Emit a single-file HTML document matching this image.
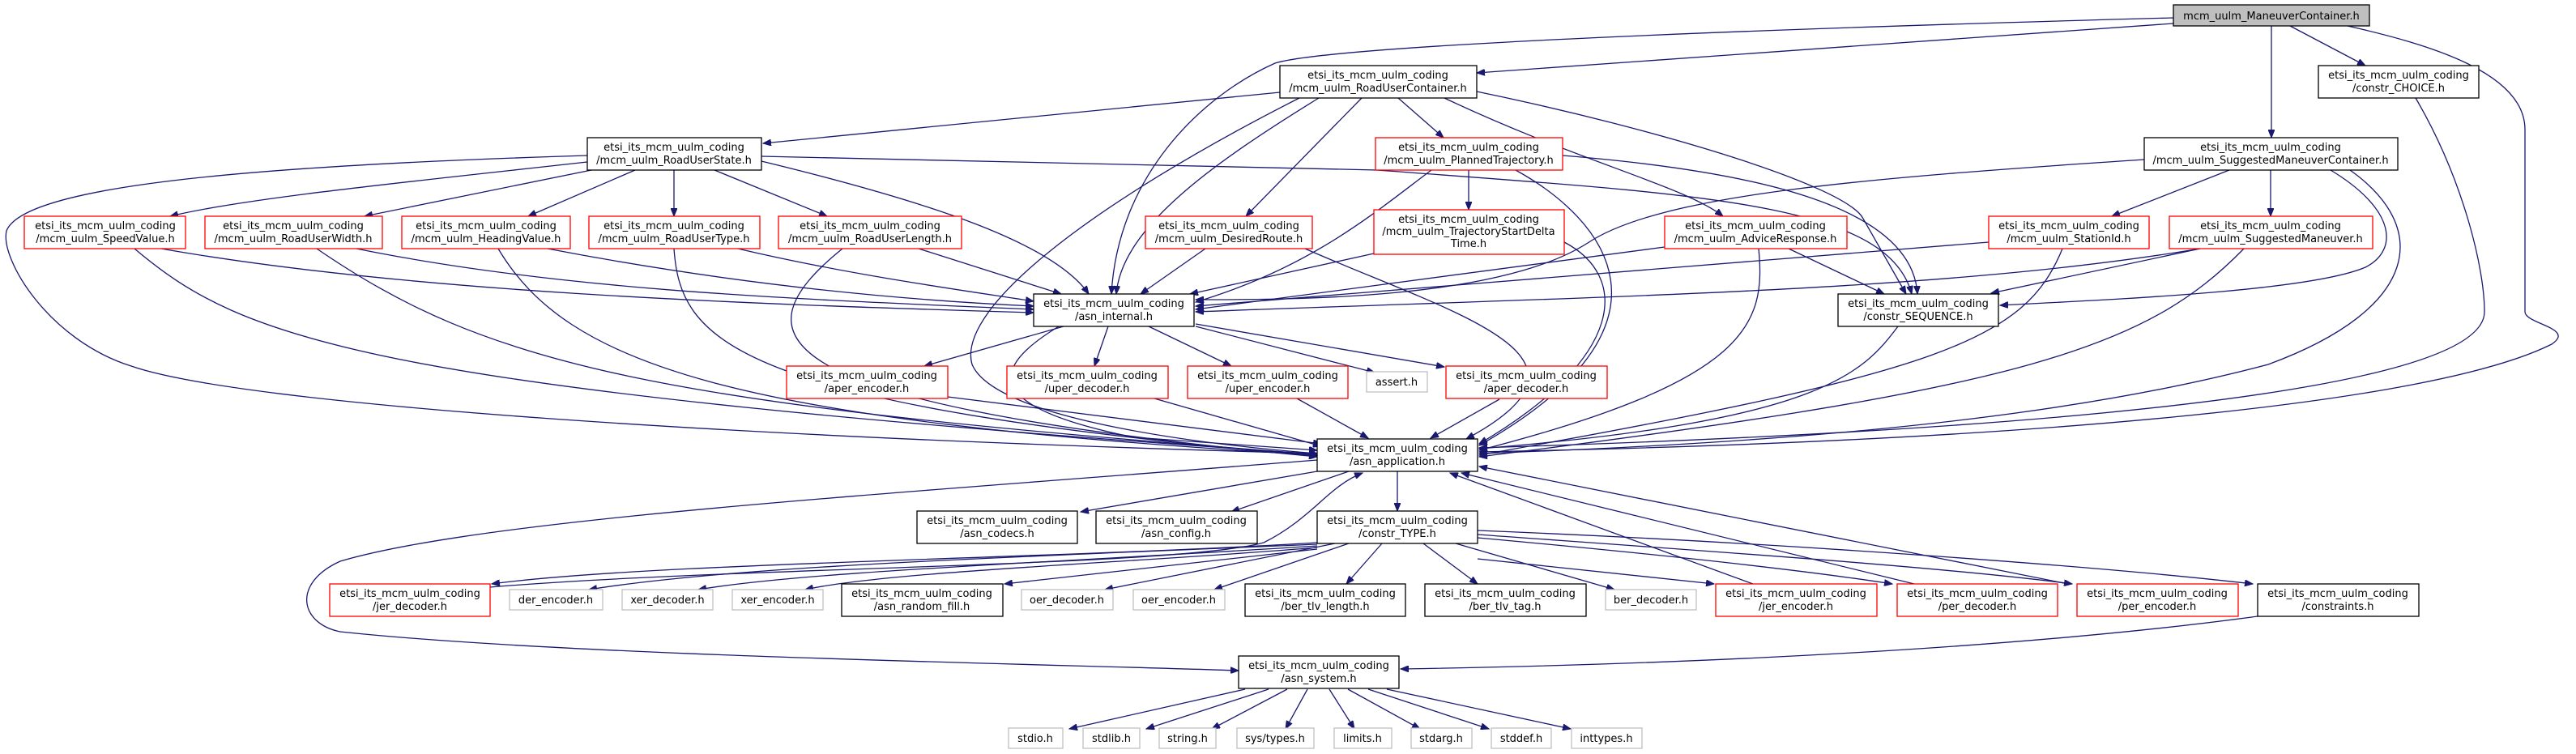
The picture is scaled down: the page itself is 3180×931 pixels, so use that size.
<!DOCTYPE html>
<html><head><meta charset="utf-8"><style>
html,body{margin:0;padding:0;background:#fff;}
svg{display:block;}
text{font-family:"DejaVu Sans","Liberation Sans",sans-serif;font-size:13px;fill:#000;text-anchor:middle;}
.e{fill:none;stroke:#191970;stroke-width:1.3;marker-end:url(#a);}
.n{fill:#fff;stroke:#000;stroke-width:1.3;}
.r{fill:#fff;stroke:#ff0000;stroke-width:1.3;}
.g{fill:#fff;stroke:#bfbfbf;stroke-width:1.3;}
</style></head><body>
<svg width="3180" height="931" viewBox="0 0 3180 931" xmlns="http://www.w3.org/2000/svg">
<defs><marker id="a" markerUnits="userSpaceOnUse" markerWidth="11" markerHeight="8" refX="10" refY="4" orient="auto"><path d="M0,0 L10,4 L0,8 z" fill="#191970" stroke="#191970"/></marker></defs>

<!-- edges -->
<path class="e" d="M2683,29 L1823,90"/>
<path class="e" d="M2683,22 C2200,35 1650,55 1574,78 C1480,120 1380,220 1372,363"/>
<path class="e" d="M2804,32 L2804,170"/>
<path class="e" d="M2827,32 L2920,81"/>
<path class="e" d="M2898,32 C3000,55 3117,90 3117,160 L3117,385 C3117,400 3180,405 3150,425 C3000,500 2500,545 1826,558"/>
<path class="e" d="M2982,121 C3040,220 3067,330 3067,385 C3067,440 2900,520 1826,553"/>

<path class="e" d="M1580,114 L942,177"/>
<path class="e" d="M1628,121 C1500,200 1385,280 1378,363"/>
<path class="e" d="M1604,121 C1350,250 1180,380 1200,450 C1230,520 1500,550 1626,560"/>
<path class="e" d="M1726,121 L1782,170"/>
<path class="e" d="M1681,121 L1538,267"/>
<path class="e" d="M1783,121 C1950,200 2080,230 2127,267"/>
<path class="e" d="M1823,113 C2050,160 2280,230 2300,270 L2353,363"/>

<path class="e" d="M725,200 C500,225 300,245 210,267"/>
<path class="e" d="M730,210 L450,267"/>
<path class="e" d="M784,210 L652,267"/>
<path class="e" d="M832,210 L832,267"/>
<path class="e" d="M882,210 L1021,267"/>
<path class="e" d="M725,192 C300,205 30,230 8,285 C0,320 60,420 162,452 C300,500 900,540 1626,560"/>
<path class="e" d="M940,199 C1150,250 1300,300 1344,363"/>
<path class="e" d="M940,193 L1700,210 C2100,240 2330,250 2360,363"/>

<path class="e" d="M199,307 C500,360 900,375 1276,386"/>
<path class="e" d="M166,307 C300,420 450,480 1626,561"/>
<path class="e" d="M440,307 C700,360 1000,370 1276,382"/>
<path class="e" d="M391,307 C600,450 800,500 1626,561"/>
<path class="e" d="M676,307 C900,350 1100,370 1276,378"/>
<path class="e" d="M615,307 C700,450 900,520 1626,562"/>
<path class="e" d="M911,307 C1050,340 1200,360 1276,372"/>
<path class="e" d="M832,307 C840,420 900,500 1626,563"/>
<path class="e" d="M1134,307 L1310,363"/>
<path class="e" d="M1040,307 C900,420 950,500 1626,564"/>

<path class="e" d="M1813,210 L1813,259"/>
<path class="e" d="M1767,210 C1700,260 1620,330 1476,373"/>
<path class="e" d="M1871,210 C1980,270 2090,400 1826,550"/>
<path class="e" d="M1929,192 C2150,210 2360,250 2367,363"/>
<path class="e" d="M1696,313 L1469,363"/>
<path class="e" d="M1931,299 C2010,340 2010,440 1826,548"/>
<path class="e" d="M1488,307 L1408,363"/>
<path class="e" d="M1611,307 C1800,390 2000,440 1810,542"/>
<path class="e" d="M2055,305 L1476,382"/>
<path class="e" d="M2171,307 C2180,400 2160,470 1826,556"/>
<path class="e" d="M2208,307 L2326,363"/>

<path class="e" d="M2752,210 L2607,267"/>
<path class="e" d="M2803,210 L2803,267"/>
<path class="e" d="M2647,197 C2300,220 2050,240 1960,300 C1850,370 1600,370 1476,370"/>
<path class="e" d="M2877,210 C2960,260 2960,310 2920,330 C2850,360 2600,370 2469,377"/>
<path class="e" d="M2901,210 C3000,280 2990,380 2800,450 C2500,530 2100,550 1826,560"/>
<path class="e" d="M2455,299 L1476,378"/>
<path class="e" d="M2546,307 C2500,420 2400,460 1826,562"/>
<path class="e" d="M2716,307 C2400,360 2000,365 1476,385"/>
<path class="e" d="M2716,307 L2458,362"/>
<path class="e" d="M2770,307 C2650,430 2500,480 1826,564"/>
<path class="e" d="M2343,403 C2300,460 2250,520 1826,554"/>

<path class="e" d="M1313,403 L1141,452"/>
<path class="e" d="M1307,403 C1230,450 1200,500 1400,540 L1626,556"/>
<path class="e" d="M1368,403 L1351,452"/>
<path class="e" d="M1418,403 L1520,452"/>
<path class="e" d="M1476,403 L1697,460"/>
<path class="e" d="M1476,400 L1783,453"/>
<path class="e" d="M1170,490 L1631,548"/>
<path class="e" d="M1425,492 L1631,551"/>
<path class="e" d="M1601,492 L1689,541"/>
<path class="e" d="M1851,493 L1766,541"/>

<path class="e" d="M1626,582 L1334,632"/>
<path class="e" d="M1665,582 L1520,632"/>
<path class="e" d="M1725,582 L1725,631"/>
<path class="e" d="M1626,568 C1100,610 600,640 420,693 C360,720 370,770 420,780 C700,810 1300,820 1529,828"/>
<path class="e" d="M2787,761 C2500,800 2100,820 1729,826"/>

<path class="e" d="M1626,670 C1300,690 800,695 607,721"/>
<path class="e" d="M605,725 C900,700 1450,700 1560,670 C1620,640 1640,600 1682,584"/>
<path class="e" d="M1626,672 C1200,690 900,700 727,728"/>
<path class="e" d="M1626,674 C1300,695 1000,705 862,728"/>
<path class="e" d="M1626,676 C1400,695 1100,705 994,728"/>
<path class="e" d="M1626,678 L1240,721"/>
<path class="e" d="M1648,671 L1364,728"/>
<path class="e" d="M1665,671 L1499,728"/>
<path class="e" d="M1706,671 L1662,721"/>
<path class="e" d="M1757,671 L1824,721"/>
<path class="e" d="M1797,671 L1993,728"/>
<path class="e" d="M1824,690 L2116,721"/>
<path class="e" d="M1824,664 C2000,680 2200,700 2336,721"/>
<path class="e" d="M1824,660 C2100,680 2400,700 2558,721"/>
<path class="e" d="M1824,655 C2200,670 2600,700 2781,721"/>
<path class="e" d="M2164,721 L1790,584"/>
<path class="e" d="M2363,721 L1804,584"/>
<path class="e" d="M2553,721 L1826,576"/>

<path class="e" d="M1537,851 L1320,900"/>
<path class="e" d="M1566,851 L1415,900"/>
<path class="e" d="M1589,851 L1496,900"/>
<path class="e" d="M1614,851 L1587,900"/>
<path class="e" d="M1641,851 L1672,900"/>
<path class="e" d="M1664,851 L1753,900"/>
<path class="e" d="M1689,851 L1838,900"/>
<path class="e" d="M1712,851 L1939,900"/>

<!-- nodes -->
<rect x="2683" y="6" width="242" height="26" fill="#bfbfbf" stroke="#000" stroke-width="1.3"/><text x="2804" y="24">mcm_uulm_ManeuverContainer.h</text>

<rect class="n" x="1580" y="81" width="243" height="40"/><text x="1701" y="97">etsi_its_mcm_uulm_coding</text><text x="1701" y="113">/mcm_uulm_RoadUserContainer.h</text>
<rect class="n" x="2862" y="81" width="198" height="40"/><text x="2961" y="97">etsi_its_mcm_uulm_coding</text><text x="2961" y="113">/constr_CHOICE.h</text>

<rect class="n" x="725" y="170" width="215" height="40"/><text x="832" y="186">etsi_its_mcm_uulm_coding</text><text x="832" y="202">/mcm_uulm_RoadUserState.h</text>
<rect class="r" x="1698" y="170" width="231" height="40"/><text x="1813" y="186">etsi_its_mcm_uulm_coding</text><text x="1813" y="202">/mcm_uulm_PlannedTrajectory.h</text>
<rect class="n" x="2647" y="170" width="313" height="40"/><text x="2803" y="186">etsi_its_mcm_uulm_coding</text><text x="2803" y="202">/mcm_uulm_SuggestedManeuverContainer.h</text>

<rect class="r" x="30" y="267" width="199" height="40"/><text x="130" y="283">etsi_its_mcm_uulm_coding</text><text x="130" y="299">/mcm_uulm_SpeedValue.h</text>
<rect class="r" x="253" y="267" width="219" height="40"/><text x="362" y="283">etsi_its_mcm_uulm_coding</text><text x="362" y="299">/mcm_uulm_RoadUserWidth.h</text>
<rect class="r" x="496" y="267" width="208" height="40"/><text x="600" y="283">etsi_its_mcm_uulm_coding</text><text x="600" y="299">/mcm_uulm_HeadingValue.h</text>
<rect class="r" x="727" y="267" width="211" height="40"/><text x="832" y="283">etsi_its_mcm_uulm_coding</text><text x="832" y="299">/mcm_uulm_RoadUserType.h</text>
<rect class="r" x="961" y="267" width="226" height="40"/><text x="1074" y="283">etsi_its_mcm_uulm_coding</text><text x="1074" y="299">/mcm_uulm_RoadUserLength.h</text>
<rect class="r" x="1414" y="267" width="206" height="40"/><text x="1517" y="283">etsi_its_mcm_uulm_coding</text><text x="1517" y="299">/mcm_uulm_DesiredRoute.h</text>
<rect class="r" x="1696" y="259" width="235" height="55"/><text x="1813" y="275">etsi_its_mcm_uulm_coding</text><text x="1813" y="290">/mcm_uulm_TrajectoryStartDelta</text><text x="1813" y="305">Time.h</text>
<rect class="r" x="2055" y="267" width="225" height="40"/><text x="2167" y="283">etsi_its_mcm_uulm_coding</text><text x="2167" y="299">/mcm_uulm_AdviceResponse.h</text>
<rect class="r" x="2455" y="267" width="198" height="40"/><text x="2554" y="283">etsi_its_mcm_uulm_coding</text><text x="2554" y="299">/mcm_uulm_StationId.h</text>
<rect class="r" x="2678" y="267" width="251" height="40"/><text x="2803" y="283">etsi_its_mcm_uulm_coding</text><text x="2803" y="299">/mcm_uulm_SuggestedManeuver.h</text>

<rect class="n" x="1276" y="363" width="198" height="40"/><text x="1375" y="379">etsi_its_mcm_uulm_coding</text><text x="1375" y="395">/asn_internal.h</text>
<rect class="n" x="2269" y="363" width="198" height="40"/><text x="2368" y="379">etsi_its_mcm_uulm_coding</text><text x="2368" y="395">/constr_SEQUENCE.h</text>

<rect class="r" x="971" y="452" width="199" height="40"/><text x="1070" y="468">etsi_its_mcm_uulm_coding</text><text x="1070" y="484">/aper_encoder.h</text>
<rect class="r" x="1243" y="452" width="199" height="40"/><text x="1342" y="468">etsi_its_mcm_uulm_coding</text><text x="1342" y="484">/uper_decoder.h</text>
<rect class="r" x="1466" y="452" width="198" height="40"/><text x="1565" y="468">etsi_its_mcm_uulm_coding</text><text x="1565" y="484">/uper_encoder.h</text>
<rect class="g" x="1687" y="459" width="75" height="25"/><text x="1724" y="476">assert.h</text>
<rect class="r" x="1785" y="452" width="199" height="40"/><text x="1884" y="468">etsi_its_mcm_uulm_coding</text><text x="1884" y="484">/aper_decoder.h</text>

<rect class="n" x="1626" y="542" width="198" height="40"/><text x="1725" y="558">etsi_its_mcm_uulm_coding</text><text x="1725" y="574">/asn_application.h</text>

<rect class="n" x="1132" y="631" width="198" height="40"/><text x="1231" y="647">etsi_its_mcm_uulm_coding</text><text x="1231" y="663">/asn_codecs.h</text>
<rect class="n" x="1353" y="631" width="199" height="40"/><text x="1452" y="647">etsi_its_mcm_uulm_coding</text><text x="1452" y="663">/asn_config.h</text>
<rect class="n" x="1626" y="631" width="198" height="40"/><text x="1725" y="647">etsi_its_mcm_uulm_coding</text><text x="1725" y="663">/constr_TYPE.h</text>

<rect class="r" x="407" y="721" width="198" height="40"/><text x="506" y="737">etsi_its_mcm_uulm_coding</text><text x="506" y="753">/jer_decoder.h</text>
<rect class="g" x="629" y="728" width="115" height="25"/><text x="686" y="745">der_encoder.h</text>
<rect class="g" x="768" y="728" width="112" height="25"/><text x="824" y="745">xer_decoder.h</text>
<rect class="g" x="904" y="728" width="112" height="25"/><text x="960" y="745">xer_encoder.h</text>
<rect class="n" x="1039" y="721" width="199" height="40"/><text x="1138" y="737">etsi_its_mcm_uulm_coding</text><text x="1138" y="753">/asn_random_fill.h</text>
<rect class="g" x="1261" y="728" width="113" height="25"/><text x="1317" y="745">oer_decoder.h</text>
<rect class="g" x="1399" y="728" width="113" height="25"/><text x="1455" y="745">oer_encoder.h</text>
<rect class="n" x="1537" y="721" width="198" height="40"/><text x="1636" y="737">etsi_its_mcm_uulm_coding</text><text x="1636" y="753">/ber_tlv_length.h</text>
<rect class="n" x="1759" y="721" width="199" height="40"/><text x="1858" y="737">etsi_its_mcm_uulm_coding</text><text x="1858" y="753">/ber_tlv_tag.h</text>
<rect class="g" x="1982" y="728" width="112" height="25"/><text x="2038" y="745">ber_decoder.h</text>
<rect class="r" x="2118" y="721" width="199" height="40"/><text x="2217" y="737">etsi_its_mcm_uulm_coding</text><text x="2217" y="753">/jer_encoder.h</text>
<rect class="r" x="2342" y="721" width="198" height="40"/><text x="2441" y="737">etsi_its_mcm_uulm_coding</text><text x="2441" y="753">/per_decoder.h</text>
<rect class="r" x="2564" y="721" width="199" height="40"/><text x="2663" y="737">etsi_its_mcm_uulm_coding</text><text x="2663" y="753">/per_encoder.h</text>
<rect class="n" x="2787" y="721" width="199" height="40"/><text x="2886" y="737">etsi_its_mcm_uulm_coding</text><text x="2886" y="753">/constraints.h</text>

<rect class="n" x="1529" y="810" width="198" height="40"/><text x="1628" y="826">etsi_its_mcm_uulm_coding</text><text x="1628" y="842">/asn_system.h</text>

<rect class="g" x="1245" y="899" width="67" height="25"/><text x="1278" y="916">stdio.h</text>
<rect class="g" x="1337" y="899" width="70" height="25"/><text x="1372" y="916">stdlib.h</text>
<rect class="g" x="1431" y="899" width="70" height="25"/><text x="1466" y="916">string.h</text>
<rect class="g" x="1527" y="899" width="95" height="25"/><text x="1574" y="916">sys/types.h</text>
<rect class="g" x="1647" y="899" width="71" height="25"/><text x="1682" y="916">limits.h</text>
<rect class="g" x="1742" y="899" width="75" height="25"/><text x="1779" y="916">stdarg.h</text>
<rect class="g" x="1841" y="899" width="74" height="25"/><text x="1878" y="916">stddef.h</text>
<rect class="g" x="1940" y="899" width="87" height="25"/><text x="1983" y="916">inttypes.h</text>
</svg>
</body></html>
